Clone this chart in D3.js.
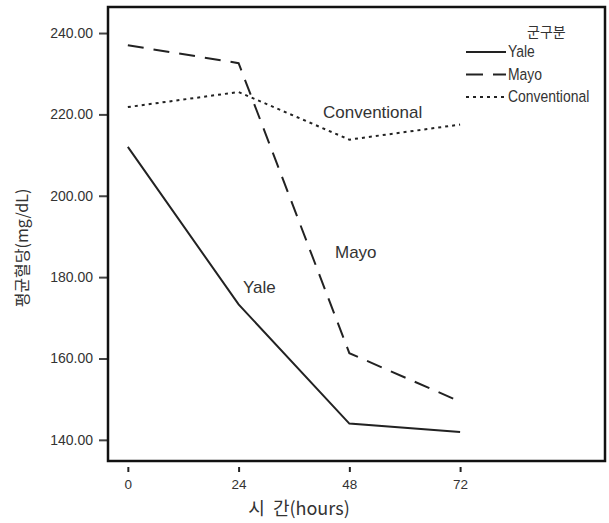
<!DOCTYPE html>
<html>
<head>
<meta charset="utf-8">
<script src="https://cdn.jsdelivr.net/npm/d3@7"></script>
<style>
  body { margin: 0; background: #fff; }
  text { font-family: "Liberation Sans", Arial, sans-serif; fill: #333; }
</style>
</head>
<body>
<svg id="chartSVG" width="609" height="523"></svg>
<script>
// hours on the x axis
const hours = [0, 24, 48, 72];
// mean blood glucose per group
const yaleValues = [212.0, 173.3, 144.0, 141.9];
const mayoValues = [237.0, 232.6, 161.3, 149.4];
const conventionalValues = [221.8, 225.5, 213.8, 217.5];
const groupNames = ["Yale", "Mayo", "Conventional"];
const yTicks = [140, 160, 180, 200, 220, 240];

const plotLeft = 108, plotRight = 605, plotTop = 7, plotBottom = 461;

var svg = d3.select("#chartSVG");

/* ---------- Scales ---------- */
var xScale = d3.scaleLinear().domain([-4.3, 103.4]).range([plotLeft, plotRight]);
var yScale = d3.scaleLinear().domain([134.8, 246.4]).range([plotBottom, plotTop]);

var dashFor = {
    "Yale": null,
    "Mayo": "16,10",
    "Conventional": "3,4"
};
var series = {
    "Yale": yaleValues,
    "Mayo": mayoValues,
    "Conventional": conventionalValues
};

/* ---------- Axes ---------- */
var yAxis = d3.axisLeft(yScale).tickValues(yTicks).tickSize(8).tickPadding(6)
    .tickFormat(d3.format(".2f"));
var yG = svg.append("g").attr("transform", "translate(" + (plotLeft - 1) + ",0)").call(yAxis);
yG.select(".domain").remove();
yG.selectAll("line").attr("stroke", "#444").attr("stroke-width", 2);
yG.selectAll("text").style("font-size", "14px").attr("fill", "#333");

var xAxis = d3.axisBottom(xScale).tickValues(hours).tickSize(5).tickPadding(7);
var xG = svg.append("g").attr("transform", "translate(0," + (plotBottom + 6) + ")").call(xAxis);
xG.select(".domain").remove();
xG.selectAll("line").attr("stroke", "#222").attr("stroke-width", 2);
xG.selectAll("text").style("font-size", "13.5px").attr("fill", "#333");

/* ---------- Frame ---------- */
svg.append("rect")
    .attr("x", plotLeft).attr("y", plotTop)
    .attr("width", plotRight - plotLeft).attr("height", plotBottom - plotTop)
    .attr("fill", "none").attr("stroke", "#111").attr("stroke-width", 2.5);

/* ---------- Lines ---------- */
var line = d3.line()
    .x((d, i) => xScale(hours[i]))
    .y(d => yScale(d));

groupNames.forEach(name => {
    svg.append("path")
        .attr("d", line(series[name]))
        .attr("fill", "none")
        .attr("stroke", "#222")
        .attr("stroke-width", 2)
        .attr("stroke-dasharray", dashFor[name]);
});

/* ---------- In-chart labels ---------- */
svg.append("text").text("Conventional").attr("x", 323).attr("y", 118).style("font-size", "17px");
svg.append("text").text("Mayo").attr("x", 335).attr("y", 258).style("font-size", "17px");
svg.append("text").text("Yale").attr("x", 243).attr("y", 293).style("font-size", "17px");

/* ---------- Legend ---------- */
var legend = svg.append("g");
legend.append("text").text("군구분")
    .attr("x", 527).attr("y", 37)
    .style("font-family", "'Noto Sans CJK KR', sans-serif")
    .style("font-size", "14px");
groupNames.forEach((name, i) => {
    var ly = 52 + i * 22.5;
    legend.append("line")
        .attr("x1", 466).attr("x2", 506)
        .attr("y1", ly).attr("y2", ly)
        .attr("stroke", "#222").attr("stroke-width", 2)
        .attr("stroke-dasharray", name === "Mayo" ? "17,10" : dashFor[name]);
    // narrow look: scale the text horizontally
    legend.append("text").text(name)
        .attr("transform", "translate(508," + (ly + 5) + ") scale(0.82,1)")
        .style("font-size", "17px");
});

/* ---------- Axis titles ---------- */
svg.append("text").text("시  간(hours)")
    .attr("text-anchor", "middle")
    .attr("x", 299).attr("y", 515)
    .style("white-space", "pre")
    .style("font-family", "'Noto Sans CJK KR', sans-serif")
    .style("font-size", "18px");
svg.append("text").text("평균혈당(mg/dL)")
    .attr("text-anchor", "middle")
    .attr("transform", "translate(28,248) rotate(-90)")
    .style("font-family", "'Noto Sans CJK KR', sans-serif")
    .style("font-size", "16px");
</script>
</body>
</html>
